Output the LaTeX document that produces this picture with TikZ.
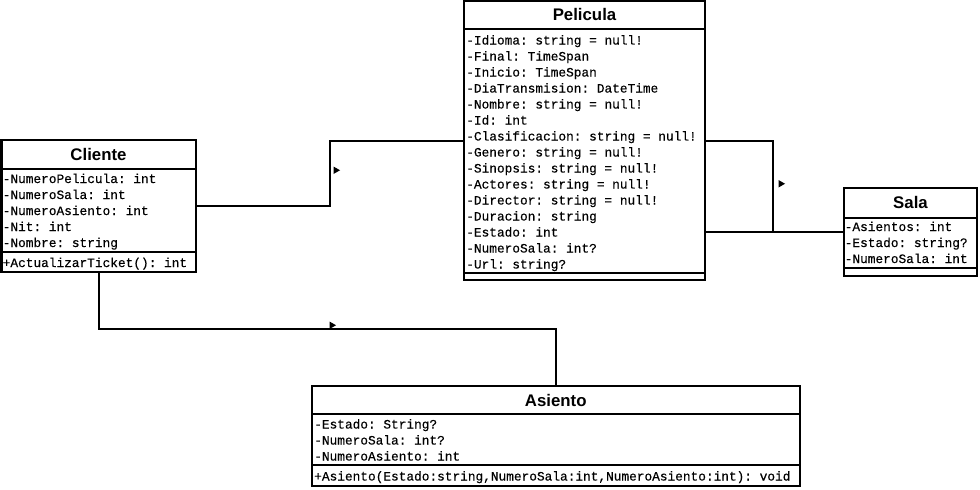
\documentclass[tikz,border=0pt]{standalone}
\usepackage{fontspec}
\setmonofont{Liberation Mono}[FakeBold=0.3]
\newfontfamily\titlefont{Liberation Sans}
\usetikzlibrary{fit,calc}
\begin{document}
\begin{tikzpicture}[x=0.75pt,y=-0.75pt,
  lw/.style={line width=1.5pt},
  cls/.style={draw,lw,inner sep=0pt,outer sep=0pt,fill=white},
  ttl/.style={font=\titlefont\bfseries\fontsize{12.6pt}{14pt}\selectfont,inner sep=0pt,anchor=base},
  att/.style={font=\ttfamily\fontsize{9.6pt}{11pt}\selectfont,inner sep=0pt,anchor=base west},
  tri/.style={fill=black}]
\useasboundingbox (0,0) rectangle (980,489);

% ---------- Pelicula ----------
\node[cls,fit={(464,1)(705,280)}] (pelicula) {};
\node[ttl] (ptitle) at (584.5,21) {Pelicula};
\draw[lw] (pelicula.west |- 0,28.5) -- (pelicula.east |- 0,28.5);
\draw[lw] (pelicula.west |- 0,272.5) -- (pelicula.east |- 0,272.5);
\foreach \t [count=\i from 0] in {-Idioma: string = null!,-Final: TimeSpan,-Inicio: TimeSpan,-DiaTransmision: DateTime,-Nombre: string = null!,-Id: int,-Clasificacion: string = null!,-Genero: string = null!,-Sinopsis: string = null!,-Actores: string = null!,-Director: string = null!,-Duracion: string,-Estado: int,-NumeroSala: int?,-Url: string?}
  \node[att] (pa\i) at (466,{44.5+16*\i}) {\t};

% ---------- Cliente ----------
\node[cls,fit={(1.5,140)(195.5,271.5)}] (cliente) {};
\node[ttl] (ctitle) at (98.5,160) {Cliente};
\draw[lw] (cliente.west |- 0,168.5) -- (cliente.east |- 0,168.5);
\draw[lw] (cliente.west |- 0,252) -- (cliente.east |- 0,252);
\foreach \t [count=\i from 0] in {-NumeroPelicula: int,-NumeroSala: int,-NumeroAsiento: int,-Nit: int,-Nombre: string}
  \node[att] (ca\i) at (2.5,{183+16*\i}) {\t};
\node[att] (cm) at (2.5,267) {+ActualizarTicket(): int};

% ---------- Sala ----------
\node[cls,fit={(844,188)(977,275.5)}] (sala) {};
\node[ttl] (stitle) at (910.5,208) {Sala};
\draw[lw] (sala.west |- 0,218) -- (sala.east |- 0,218);
\draw[lw] (sala.west |- 0,268) -- (sala.east |- 0,268);
\foreach \t [count=\i from 0] in {-Asientos: int,-Estado: string?,-NumeroSala: int}
  \node[att] (sa\i) at (844.5,{231+16*\i}) {\t};

% ---------- Asiento ----------
\node[cls,fit={(312,386)(799.5,486)}] (asiento) {};
\node[ttl] (atitle) at (555.75,406.5) {Asiento};
\draw[lw] (asiento.west |- 0,413.5) -- (asiento.east |- 0,413.5);
\draw[lw] (asiento.west |- 0,464.5) -- (asiento.east |- 0,464.5);
\foreach \t [count=\i from 0] in {-Estado: String?,-NumeroSala: int?,-NumeroAsiento: int}
  \node[att] (aa\i) at (314,{428.5+16*\i}) {\t};
\node[att] (am) at (314,480.5) {+Asiento(Estado:string,NumeroSala:int,NumeroAsiento:int): void};

% ---------- connectors ----------
\draw[lw] (cliente.east) -- ++(134,0) |- (pelicula.west);
\draw[lw] (pelicula.east) -- ++(68,0) |- (sala.west);
\draw[lw] (pelicula.east |- sala.west) -- (sala.west);
\draw[lw] (cliente.south) -- ++(0,57.5) -| (asiento.north);

% ---------- direction markers ----------
\fill[tri] (333.5,166.5) -- (333.5,174) -- (340,170.25) -- cycle;
\fill[tri] (778.5,180) -- (778.5,187.5) -- (785,183.75) -- cycle;
\fill[tri] (329.5,321.5) -- (329.5,329) -- (336,325.25) -- cycle;
\end{tikzpicture}
\end{document}
